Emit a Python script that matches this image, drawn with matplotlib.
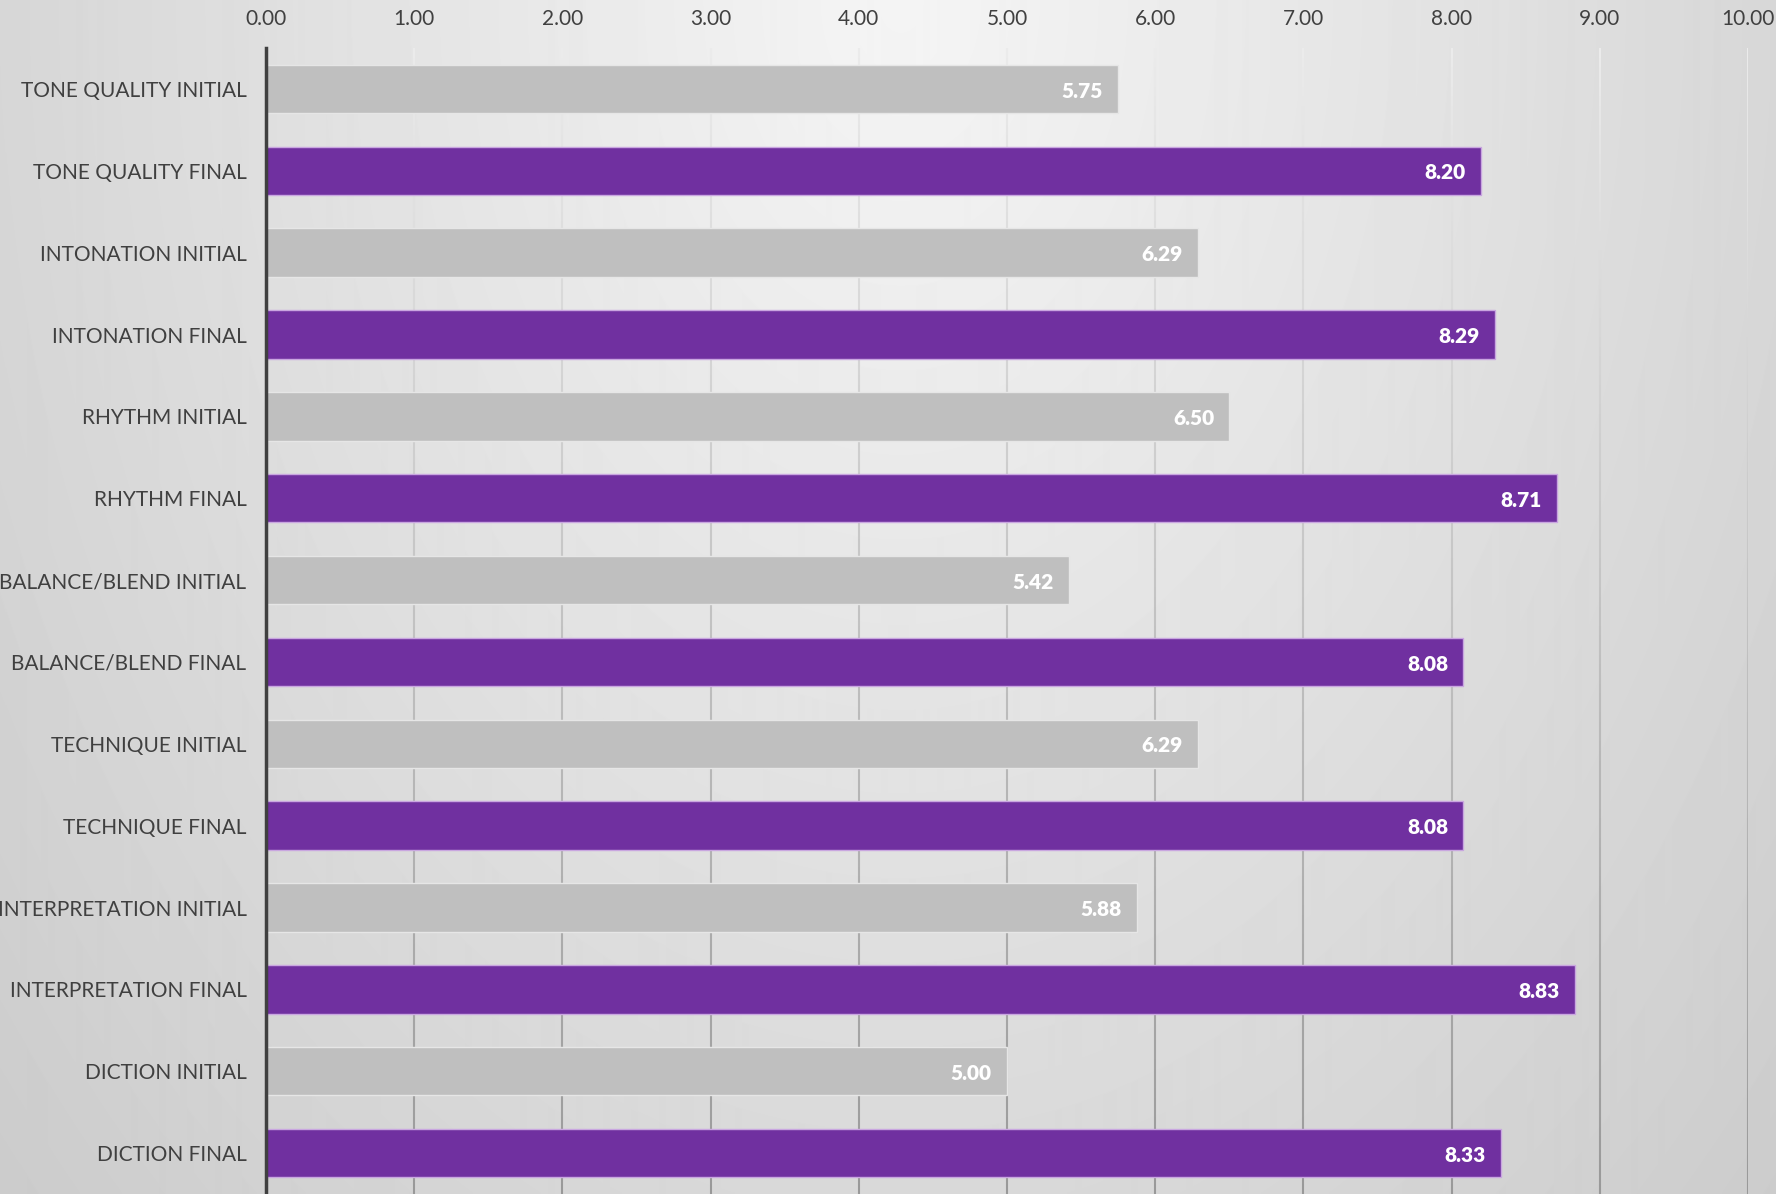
import numpy as np
import matplotlib.pyplot as plt
from matplotlib.collections import LineCollection

plt.rcParams['font.family'] = ['Lato', 'DejaVu Sans']

# Data
categories = ["TONE QUALITY INITIAL", "TONE QUALITY FINAL",
              "INTONATION INITIAL", "INTONATION FINAL",
              "RHYTHM INITIAL", "RHYTHM FINAL",
              "BALANCE/BLEND INITIAL", "BALANCE/BLEND FINAL",
              "TECHNIQUE INITIAL", "TECHNIQUE FINAL",
              "INTERPRETATION INITIAL", "INTERPRETATION FINAL",
              "DICTION INITIAL", "DICTION FINAL"]
scores = [5.75, 8.20, 6.29, 8.29, 6.50, 8.71, 5.42, 8.08,
          6.29, 8.08, 5.88, 8.83, 5.00, 8.33]
xticks = [0, 1, 2, 3, 4, 5, 6, 7, 8, 9, 10]

purple = "#7030A0"
grey = "#BFBFBF"
txt = "#404040"

fig = plt.figure(figsize=(17.76, 11.94), dpi=100)

# background gradient (light at top centre, darker to edges)
bg = fig.add_axes([0, 0, 1, 1], zorder=-5)
W, H = 1776, 1194
gx, gy = np.meshgrid(np.arange(W), np.arange(H))
r = np.sqrt(((gx - 900) / 900.0) ** 2 + (gy / 1300.0) ** 2)
val = np.clip(0.96 - 0.12 * r, 0, 1)
bg.imshow(val, cmap="gray", vmin=0, vmax=1, aspect="auto", interpolation="bilinear")
bg.axis("off")

ax = fig.add_axes([266 / W, 0.0, (1748 - 266) / W, 1 - 48 / H])
ax.set_facecolor("none")

y = np.arange(len(categories))
colors = [grey if i % 2 == 0 else purple for i in range(len(categories))]
edges = ["#e6e6e6" if i % 2 == 0 else "#c9a6e0" for i in range(len(categories))]
ax.barh(y, scores, height=0.59, color=colors, edgecolor=edges, linewidth=1.0, zorder=3)

ax.set_xlim(0, 10)
ax.set_ylim(len(categories) - 0.5, -0.5)

# vertical gridlines with a top-to-bottom gradient
ys = np.linspace(-0.5, len(categories) - 0.5, 120)
segs, cols = [], []
for xv in xticks[1:]:
    for k in range(len(ys) - 1):
        segs.append([(xv, ys[k]), (xv, ys[k + 1])])
        t = k / (len(ys) - 2)
        g = 0.92 - 0.32 * t
        cols.append((g, g, g))
ax.add_collection(LineCollection(segs, colors=cols, linewidths=1.5, zorder=1))

for sp in ["top", "right", "bottom"]:
    ax.spines[sp].set_visible(False)
ax.spines["left"].set_color(txt)
ax.spines["left"].set_linewidth(2.5)
ax.spines["left"].set_zorder(5)

ax.xaxis.tick_top()
ax.set_xticks(xticks)
ax.set_xticklabels([f"{v:.2f}" for v in xticks], fontsize=15, color=txt)
ax.set_yticks(y)
ax.set_yticklabels(categories, fontsize=15, color=txt)
ax.tick_params(length=0)
ax.tick_params(axis="x", pad=14)
ax.tick_params(axis="y", pad=14)

for yi, v in zip(y, scores):
    ax.annotate(f"{v:.2f}", xy=(v, yi), xytext=(-11, -1.5), textcoords="offset points",
                ha="right", va="center", color="white", fontsize=15,
                fontweight="heavy", zorder=6)

fig.savefig("out.png", dpi=100)
